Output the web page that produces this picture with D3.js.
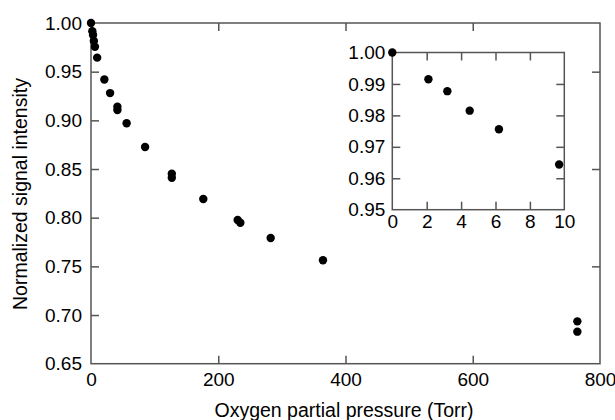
<!DOCTYPE html>
<html>
<head>
<meta charset="utf-8">
<script src="https://cdn.jsdelivr.net/npm/d3@7"></script>
<style>
  body { margin: 0; background: #fff; }
  svg text { font-family: "Liberation Sans", Arial, sans-serif; fill: #000; }
</style>
</head>
<body>
<svg id="chart" width="615" height="420"></svg>
<script>
// main data: oxygen pressure (Torr) vs normalized intensity
var pressure = [0, 2.1, 3.2, 4.5, 6.2, 9.7, 21, 30, 41.5, 41.5, 56, 85, 127, 127,
  176.5, 230.5, 234.7, 282.4, 364.6, 764.4, 764.4];
var intensity = [1.000, 0.9915, 0.9877, 0.9815, 0.9756, 0.9644, 0.942, 0.928, 0.914, 0.9106,
  0.897, 0.8726, 0.8452, 0.841, 0.8192, 0.7976, 0.7948, 0.7791, 0.7562, 0.6935, 0.6829];

// inset: low pressure region
var insetPressure = [0, 2.1, 3.2, 4.5, 6.2, 9.7];
var insetIntensity = [1.000, 0.9915, 0.9877, 0.9815, 0.9756, 0.9644];

var xTicks = [0, 200, 400, 600, 800];
var yTicks = [0.65, 0.70, 0.75, 0.80, 0.85, 0.90, 0.95, 1.00];
var yRightTicks = [0.75, 0.85, 0.95];
var insetXTicks = [0, 2, 4, 6, 8, 10];
var insetYTicks = [0.95, 0.96, 0.97, 0.98, 0.99, 1.00];

var svg = d3.select("#chart");
var frameColor = "#555";

function drawPanel(g, x, y, o) {
  var inner = function (v, ends) { return v.filter(function (d) { return d !== ends[0] && d !== ends[1]; }); };
  var xd = x.domain(), yd = y.domain();
  var h = y.range()[0], w = x.range()[1];

  g.append("rect")
    .attr("x", x.range()[0]).attr("y", y.range()[1])
    .attr("width", w - x.range()[0]).attr("height", h - y.range()[1])
    .attr("fill", "#fff").attr("stroke", frameColor).attr("stroke-width", 1.5);

  var ax = g.append("g")
    .attr("transform", "translate(0," + h + ")")
    .call(d3.axisBottom(x).tickValues(o.xTicks).tickSize(-o.tick).tickPadding(o.xPad).tickFormat(d3.format("d")));
  ax.selectAll("line").filter(function (d) { return d === xd[0] || d === xd[1]; }).remove();

  var ay = g.append("g")
    .attr("transform", "translate(" + x.range()[0] + ",0)")
    .call(d3.axisLeft(y).tickValues(o.yTicks).tickSize(-o.tick).tickPadding(o.yPad).tickFormat(d3.format(".2f")));
  ay.selectAll("line").filter(function (d) { return d === yd[0] || d === yd[1]; }).remove();

  g.append("g")
    .attr("transform", "translate(0," + y.range()[1] + ")")
    .call(d3.axisTop(x).tickValues(inner(o.xTicks, xd)).tickSize(-o.tick).tickFormat(""));
  g.append("g")
    .attr("transform", "translate(" + w + ",0)")
    .call(d3.axisRight(y).tickValues(o.yRight).tickSize(-o.tick).tickFormat(""));

  g.selectAll(".domain").remove();
  g.selectAll(".tick line").attr("stroke", frameColor).attr("stroke-width", 1.5);
  g.selectAll(".tick text").attr("font-size", o.font).attr("fill", "#000")
    .attr("font-family", "Liberation Sans, Arial, sans-serif");
}

// main panel
var x = d3.scaleLinear().domain([0, 800]).range([91, 600]);
var y = d3.scaleLinear().domain([0.65, 1.00]).range([363.7, 23]);
var main = svg.append("g");
drawPanel(main, x, y, {
  xTicks: xTicks, yTicks: yTicks, yRight: yRightTicks,
  tick: 8, xPad: 9, yPad: 9, font: "19px"
});

main.append("g").selectAll("circle")
  .data(pressure.map(function (p, i) { return [p, intensity[i]]; }))
  .join("circle")
  .attr("cx", function (d) { return x(d[0]); })
  .attr("cy", function (d) { return y(d[1]); })
  .attr("r", 4.2)
  .attr("fill", "#000");

// inset panel
var xi = d3.scaleLinear().domain([0, 10]).range([392.3, 564.3]);
var yi = d3.scaleLinear().domain([0.95, 1.00]).range([209.7, 52.5]);
var inset = svg.append("g");
drawPanel(inset, xi, yi, {
  xTicks: insetXTicks, yTicks: insetYTicks, yRight: insetYTicks.slice(1, 5),
  tick: 8, xPad: 5, yPad: 7, font: "19px"
});

inset.append("g").selectAll("circle")
  .data(insetPressure.map(function (p, i) { return [p, insetIntensity[i]]; }))
  .join("circle")
  .attr("cx", function (d) { return xi(d[0]); })
  .attr("cy", function (d) { return yi(d[1]); })
  .attr("r", 4.2)
  .attr("fill", "#000");

// axis titles
svg.append("text")
  .attr("x", 344).attr("y", 416.5)
  .attr("text-anchor", "middle")
  .attr("font-size", "19.5px")
  .text("Oxygen partial pressure (Torr)");

svg.append("text")
  .attr("transform", "translate(27,194) rotate(-90)")
  .attr("text-anchor", "middle")
  .attr("font-size", "19.5px")
  .text("Normalized signal intensity");
</script>
</body>
</html>
